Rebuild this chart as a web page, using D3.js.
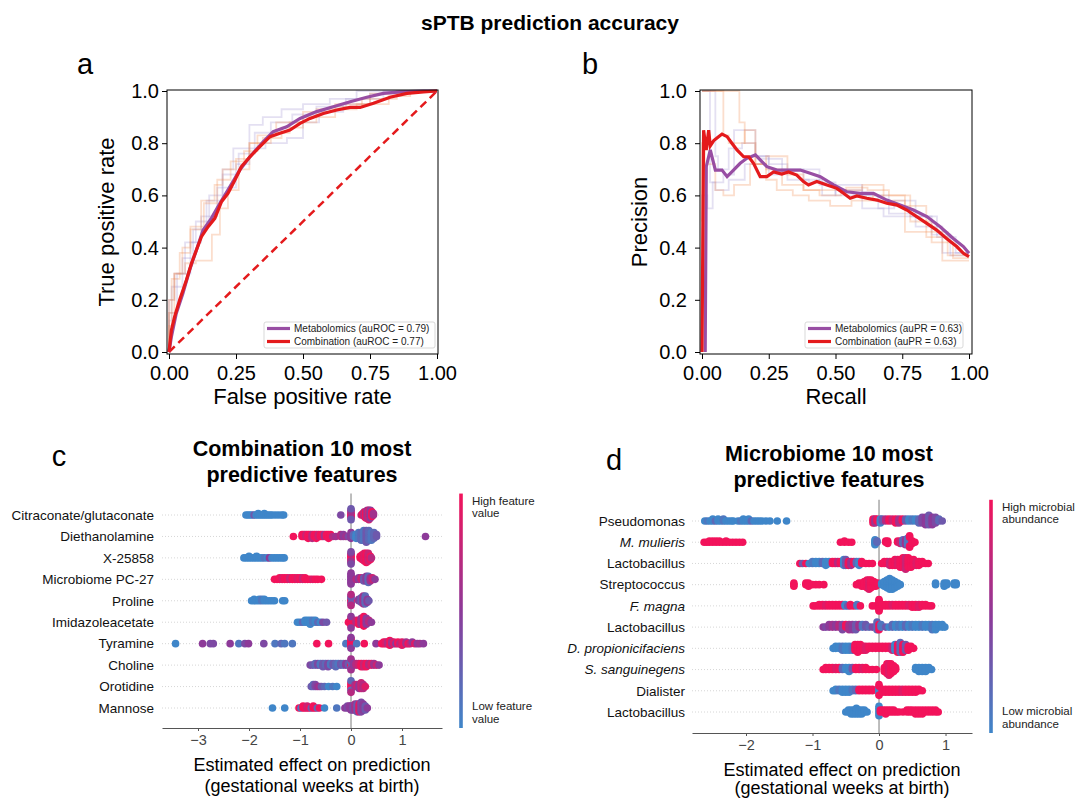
<!DOCTYPE html>
<html>
<head>
<meta charset="utf-8">
<script src="https://d3js.org/d3.v7.min.js"></script>
<style>
  body { margin: 0; background: #fff; }
  svg { font-family: "Liberation Sans", Arial, sans-serif; }
</style>
</head>
<body>
<svg id="fig" width="1075" height="800"></svg>
<script>
// ---------- data: panel a (ROC) ----------
const rocMetab = [[0,0],[0.009,0.059],[0.027,0.148],[0.052,0.225],[0.077,0.314],[0.102,0.39],[0.127,0.467],[0.158,0.512],[0.19,0.57],[0.227,0.633],[0.264,0.697],[0.302,0.748],[0.352,0.806],[0.389,0.844],[0.439,0.863],[0.489,0.895],[0.551,0.921],[0.613,0.94],[0.676,0.959],[0.738,0.976],[0.8,0.991],[0.863,0.997],[0.95,1],[1,1]];
const rocComb = [[0,0],[0.009,0.084],[0.021,0.135],[0.04,0.2],[0.065,0.276],[0.084,0.34],[0.102,0.39],[0.121,0.442],[0.146,0.48],[0.171,0.512],[0.196,0.576],[0.22,0.608],[0.246,0.659],[0.27,0.71],[0.302,0.748],[0.339,0.787],[0.377,0.825],[0.414,0.838],[0.451,0.85],[0.489,0.876],[0.526,0.895],[0.576,0.914],[0.626,0.927],[0.676,0.937],[0.713,0.937],[0.763,0.953],[0.825,0.976],[0.888,0.991],[0.95,0.997],[1,1]];
const rocMetabFolds = [
  [[0,0],[0.02,0.2],[0.06,0.3],[0.1,0.42],[0.15,0.5],[0.2,0.6],[0.24,0.7],[0.3,0.78],[0.35,0.87],[0.42,0.9],[0.5,0.93],[0.6,0.95],[0.7,0.97],[0.85,1],[1,1]],
  [[0,0],[0.03,0.15],[0.08,0.3],[0.12,0.42],[0.18,0.52],[0.25,0.63],[0.3,0.72],[0.36,0.78],[0.44,0.8],[0.5,0.82],[0.56,0.88],[0.65,0.92],[0.75,0.95],[0.88,0.99],[1,1]],
  [[0,0],[0.01,0.12],[0.05,0.25],[0.09,0.36],[0.14,0.47],[0.2,0.58],[0.26,0.68],[0.32,0.76],[0.38,0.84],[0.46,0.88],[0.55,0.91],[0.66,0.94],[0.8,0.97],[0.9,1],[1,1]]
];
const rocCombFolds = [
  [[0,0],[0.02,0.15],[0.06,0.3],[0.1,0.34],[0.16,0.35],[0.19,0.45],[0.22,0.55],[0.26,0.62],[0.3,0.7],[0.38,0.8],[0.45,0.84],[0.55,0.88],[0.7,0.93],[0.82,0.95],[0.9,0.98],[1,1]],
  [[0,0],[0.01,0.1],[0.04,0.28],[0.08,0.38],[0.12,0.47],[0.17,0.58],[0.2,0.64],[0.25,0.7],[0.3,0.74],[0.35,0.8],[0.42,0.82],[0.5,0.86],[0.62,0.9],[0.75,0.95],[0.9,0.99],[1,1]],
  [[0,0],[0.02,0.2],[0.05,0.3],[0.08,0.4],[0.13,0.48],[0.18,0.57],[0.23,0.66],[0.28,0.73],[0.33,0.77],[0.4,0.83],[0.5,0.88],[0.6,0.92],[0.72,0.94],[0.85,0.97],[1,1]]
];
const rocLegend = ["Metabolomics (auROC = 0.79)", "Combination (auROC = 0.77)"];

// ---------- data: panel b (precision-recall) ----------
const prMetab = [[0.012,0],[0.016,0.71],[0.031,0.774],[0.05,0.697],[0.075,0.697],[0.094,0.672],[0.118,0.697],[0.143,0.723],[0.168,0.742],[0.2,0.755],[0.218,0.736],[0.243,0.71],[0.281,0.697],[0.318,0.697],[0.368,0.697],[0.405,0.685],[0.443,0.672],[0.493,0.64],[0.542,0.614],[0.592,0.608],[0.642,0.608],[0.692,0.582],[0.742,0.563],[0.792,0.544],[0.842,0.519],[0.892,0.48],[0.941,0.435],[0.979,0.404],[1,0.378]];
const prComb = [[0,0],[0.006,0.85],[0.016,0.774],[0.025,0.85],[0.031,0.79],[0.044,0.81],[0.062,0.825],[0.075,0.835],[0.094,0.825],[0.112,0.8],[0.131,0.774],[0.156,0.748],[0.175,0.748],[0.193,0.723],[0.218,0.672],[0.243,0.672],[0.268,0.69],[0.299,0.682],[0.324,0.69],[0.355,0.678],[0.38,0.653],[0.399,0.64],[0.43,0.653],[0.468,0.64],[0.505,0.627],[0.53,0.608],[0.555,0.589],[0.58,0.598],[0.617,0.589],[0.655,0.582],[0.692,0.57],[0.73,0.563],[0.767,0.544],[0.804,0.519],[0.842,0.493],[0.879,0.467],[0.916,0.435],[0.954,0.404],[0.979,0.378],[1,0.365]];
const prMetabFolds = [
  [[0,1],[0.05,1],[0.06,0.75],[0.1,0.7],[0.15,0.78],[0.2,0.8],[0.25,0.75],[0.3,0.68],[0.38,0.7],[0.45,0.66],[0.5,0.6],[0.6,0.62],[0.68,0.55],[0.8,0.52],[0.9,0.48],[1,0.38]],
  [[0,0.4],[0.02,0.6],[0.04,0.55],[0.08,0.65],[0.12,0.68],[0.2,0.85],[0.25,0.75],[0.32,0.72],[0.4,0.66],[0.5,0.65],[0.58,0.6],[0.66,0.6],[0.72,0.55],[0.8,0.58],[0.88,0.52],[0.95,0.44],[1,0.38]],
  [[0,1],[0.03,1],[0.05,0.65],[0.1,0.62],[0.16,0.66],[0.22,0.72],[0.3,0.74],[0.36,0.7],[0.44,0.7],[0.52,0.64],[0.6,0.64],[0.7,0.6],[0.78,0.53],[0.86,0.52],[0.93,0.45],[1,0.37]]
];
const prCombFolds = [
  [[0,1],[0.14,1],[0.16,0.88],[0.2,0.8],[0.24,0.72],[0.28,0.66],[0.34,0.62],[0.4,0.6],[0.48,0.58],[0.56,0.56],[0.64,0.58],[0.7,0.6],[0.78,0.6],[0.86,0.5],[0.94,0.42],[1,0.36]],
  [[0,0.5],[0.01,0.8],[0.05,0.72],[0.08,0.62],[0.12,0.6],[0.18,0.64],[0.24,0.72],[0.32,0.75],[0.38,0.68],[0.44,0.62],[0.52,0.6],[0.6,0.62],[0.68,0.64],[0.76,0.58],[0.84,0.46],[0.9,0.44],[1,0.35]],
  [[0,1],[0.08,1],[0.1,0.83],[0.16,0.8],[0.2,0.85],[0.24,0.72],[0.3,0.7],[0.38,0.64],[0.46,0.62],[0.54,0.62],[0.62,0.63],[0.7,0.62],[0.76,0.6],[0.84,0.56],[0.92,0.46],[1,0.37]]
];
const prLegend = ["Metabolomics (auPR = 0.63)", "Combination (auPR = 0.63)"];

const curveXTicks = [0, 0.25, 0.5, 0.75, 1];
const curveYTicks = [0, 0.2, 0.4, 0.6, 0.8, 1];

// ---------- data: panel c (combination SHAP) ----------
// each point group: [shap value, feature value 0..1, count]
const combFeatures = ["Citraconate/glutaconate", "Diethanolamine", "X-25858", "Microbiome PC-27", "Proline",
  "Imidazoleacetate", "Tyramine", "Choline", "Orotidine", "Mannose"];
const combShap = [
  // Citraconate/glutaconate
  [[-2.06,0,1],[-2.02,0,1],[-1.98,0,1],[-1.94,0,1],[-1.9,0.3,1],[-1.86,0,1],[-1.82,0,2],[-1.78,0,1],[-1.74,0,1],[-1.7,0,2],[-1.66,0,1],[-1.62,0,1],[-1.58,0,1],[-1.54,0,1],[-1.48,0,1],[-1.42,0,1],[-1.36,0,1],[-1.32,0,1],
   [-0.2,0.4,1],[0,1,3],[0,0.6,3],[0,0.3,2],
   [0.2,0.8,1],[0.23,1,2],[0.26,0.7,4],[0.29,1,5],[0.32,0.6,6],[0.35,0.8,7],[0.38,0.5,6],[0.41,1,4],[0.44,0.6,2]],
  // Diethanolamine
  [[-1.13,1,1],[-0.96,1,2],[-0.92,1,2],[-0.88,0.8,2],[-0.84,1,3],[-0.8,1,2],[-0.76,0.7,3],[-0.72,1,2],[-0.68,1,3],[-0.64,0.8,2],[-0.6,1,2],[-0.56,1,2],[-0.52,0.6,2],[-0.48,1,2],[-0.44,1,3],[-0.4,1,2],[-0.36,0.7,1],[-0.3,0.6,1],[-0.2,0.7,2],[-0.15,0.5,2],[-0.1,0.6,1],[-0.05,0.4,1],
   [0,0.5,4],[0.05,0.2,2],[0.1,0,3],[0.15,0.1,4],[0.2,0.2,5],[0.25,0.1,6],[0.3,0.3,7],[0.35,0.2,6],[0.4,0.1,5],[0.45,0.2,4],[0.5,0.3,2],[1.46,0.5,1]],
  // X-25858
  [[-2.1,0,1],[-2.05,0,1],[-2,0,2],[-1.95,0,1],[-1.9,0,1],[-1.85,0,2],[-1.8,0,1],[-1.75,0,1],[-1.7,0.1,1],[-1.64,0,1],[-1.6,0.5,1],[-1.55,0,1],[-1.5,0,1],[-1.45,0,1],[-1.4,0,1],[-1.35,0,1],[-1.31,0,1],
   [0,1,4],[0,0.6,3],[0,0.4,2],
   [0.18,1,2],[0.22,1,4],[0.26,0.9,6],[0.3,1,7],[0.34,0.8,6],[0.38,1,3],[0.4,0.7,1]],
  // Microbiome PC-27
  [[-1.5,1,1],[-1.45,1,1],[-1.4,1,2],[-1.35,0.9,2],[-1.3,1,2],[-1.25,1,2],[-1.2,0.8,2],[-1.15,1,2],[-1.1,1,2],[-1.05,0.9,2],[-1,1,2],[-0.95,0.8,2],[-0.9,1,2],[-0.85,1,1],[-0.8,1,1],[-0.75,0.9,1],[-0.7,1,1],[-0.65,1,1],[-0.58,1,1],
   [0,0.5,8],
   [0.1,0.7,1],[0.15,0.5,2],[0.2,0.8,2],[0.25,0.3,3],[0.3,0.5,4],[0.34,0.2,5],[0.38,0.6,3],[0.42,0.8,2],[0.47,0.5,1]],
  // Proline
  [[-1.95,0,1],[-1.9,0,2],[-1.85,0,1],[-1.8,0,2],[-1.75,0.1,2],[-1.7,0,2],[-1.65,0,1],[-1.6,0,1],[-1.55,0,1],[-1.5,0,1],[-1.34,0,1],[-1.3,0,1],
   [0,1,3],[0,0.3,3],[0,0.7,2],
   [0.15,0.5,2],[0.2,0.3,4],[0.24,0.6,6],[0.28,0.2,6],[0.32,0.5,3],[0.35,0.3,1]],
  // Imidazoleacetate
  [[-1.05,0,1],[-1,0,1],[-0.95,0.2,1],[-0.9,0,2],[-0.85,0,2],[-0.8,0,3],[-0.75,0.1,2],[-0.7,0,2],[-0.65,0.2,1],[-0.6,0,1],[-0.55,0.4,1],[-0.48,0.3,1],
   [-0.05,1,1],[0,1,5],[0,0.5,2],
   [0.1,0.7,2],[0.15,1,3],[0.2,0.6,4],[0.25,1,6],[0.3,0.5,4],[0.35,0.7,2],[0.4,0.5,1]],
  // Tyramine
  [[-3.44,0,1],[-2.91,0.5,1],[-2.76,0.4,1],[-2.7,0.4,1],[-2.37,0.5,1],[-2.2,0.1,1],[-2.08,0.4,1],[-2.01,0.5,1],[-1.71,0.4,1],[-1.49,0.1,1],[-1.37,0.2,1],[-1.3,0.1,1],[-1.15,0.1,1],[-0.67,1,1],[-0.44,1,1],[-0.1,0.1,1],
   [0,1,6],[0,0.5,2],[0.11,0.1,1],[0.26,1,1],[0.49,0.5,1],
   [0.6,1,1],[0.64,1,2],[0.68,0.9,2],[0.72,0.7,2],[0.76,1,2],[0.8,0.6,2],[0.84,0.9,2],[0.88,0.5,1],[0.92,1,2],[0.96,0.7,1],[1,0.9,2],[1.04,1,1],[1.08,0.6,2],[1.12,1,1],[1.16,0.8,1],[1.2,0.5,1],[1.25,0.9,1],[1.3,0.5,1],[1.35,0.6,1],[1.42,0.5,1]],
  // Choline
  [[-0.8,0.4,1],[-0.75,0.3,1],[-0.7,0.2,2],[-0.65,0.4,2],[-0.6,0.1,2],[-0.55,0.3,3],[-0.5,0.2,2],[-0.45,0.4,3],[-0.4,0.1,2],[-0.35,0.3,2],[-0.3,0.2,3],[-0.25,0.1,2],[-0.2,0.3,2],[-0.15,0.2,2],[-0.1,0.5,2],[-0.05,0.3,2],
   [0,1,3],[0,0.2,3],[0,0.6,2],
   [0.05,0.5,2],[0.1,0.7,2],[0.15,0.8,2],[0.2,1,3],[0.25,0.8,3],[0.3,1,3],[0.35,0.7,2],[0.4,0.9,2],[0.45,0.6,2],[0.5,0.8,1],[0.55,0.5,1]],
  // Orotidine
  [[-0.78,0.3,1],[-0.74,0.2,2],[-0.7,0.4,2],[-0.66,0.5,1],[-0.62,0.6,1],[-0.58,0.3,1],[-0.52,0.2,1],[-0.44,0,1],[-0.36,0.1,1],[-0.28,0,1],
   [0,1,4],[0,0.2,2],[0,0.7,1],
   [0.08,0.6,2],[0.12,0.8,2],[0.16,0.5,3],[0.2,0.8,4],[0.24,0.7,3],[0.28,0.9,1]],
  // Mannose
  [[-1.54,0,1],[-1.3,0,1],[-1.02,1,1],[-0.98,0.1,1],[-0.94,1,2],[-0.9,1,1],[-0.86,0.8,2],[-0.82,1,1],[-0.78,0.3,1],[-0.74,1,2],[-0.7,1,1],[-0.66,0.2,1],[-0.62,1,1],[-0.52,0,1],[-0.28,0.1,1],
   [-0.12,0.5,1],[-0.07,0.4,2],[-0.03,0.5,2],[0,0.5,3],[0.04,0.4,3],[0.08,0.6,4],[0.12,0.3,5],[0.16,0.9,5],[0.2,0.4,6],[0.24,0.5,4],[0.28,0.3,3],[0.32,0.5,1]]
];
const combTicks = [-3, -2, -1, 0, 1];

// ---------- data: panel d (microbiome SHAP) ----------
const microFeatures = ["Pseudomonas", "M. mulieris", "Lactobacillus", "Streptococcus", "F. magna",
  "Lactobacillus", "D. propionicifaciens", "S. sanguinegens", "Dialister", "Lactobacillus"];
const microItalic = [false, true, false, false, true, false, true, true, false, false];
const microShap = [
  // Pseudomonas
  [[-2.62,0,1],[-2.58,0.1,1],[-2.54,0,1],[-2.5,0,2],[-2.46,0.2,1],[-2.42,0,2],[-2.38,0,1],[-2.34,0.1,2],[-2.3,0,1],[-2.26,0,1],[-2.22,0,1],[-2.19,0,1],[-2.12,0,1],[-2.08,0.1,1],[-2.04,0,2],[-2,0,1],[-1.96,0,2],[-1.92,0.2,1],[-1.88,0,1],[-1.84,0,1],[-1.8,0,1],[-1.76,0,1],[-1.7,0,1],[-1.64,0,1],[-1.53,0,1],[-1.39,0,1],
   [-0.09,1,3],[-0.06,0.6,3],[-0.03,1,2],[0.02,0,3],[0.05,0.3,2],[0.1,0.7,2],[0.15,1,2],[0.2,0.8,2],[0.25,1,3],[0.3,0.6,3],[0.35,1,2],[0.4,0.3,2],[0.45,0,2],[0.5,0.1,2],[0.55,0,2],[0.6,0.2,3],[0.65,0.4,4],[0.7,0.5,5],[0.75,0.3,6],[0.8,0.5,5],[0.85,0.4,4],[0.9,0.2,2],[0.95,0.3,1]],
  // M. mulieris
  [[-2.63,1,1],[-2.59,1,1],[-2.55,1,2],[-2.5,1,2],[-2.45,1,2],[-2.4,1,2],[-2.35,1,1],[-2.3,1,2],[-2.25,1,1],[-2.2,1,1],[-2.15,1,1],[-2.1,1,1],[-2.05,1,1],
   [-0.58,1,1],[-0.52,1,2],[-0.46,1,1],[-0.41,1,1],
   [-0.06,0,5],[-0.03,0.2,2],[0.1,1,2],[0.13,1,3],[0.28,1,2],[0.32,0.8,3],[0.36,0.2,4],[0.4,0.6,5],[0.43,0.1,6],[0.46,1,4],[0.5,1,3],[0.54,1,1]],
  // Lactobacillus
  [[-1.19,1,1],[-1.15,0.3,1],[-1.1,1,1],[-1.05,0,1],[-1,0.1,2],[-0.95,0,2],[-0.9,0,2],[-0.85,0.2,2],[-0.8,0,3],[-0.75,0,2],[-0.7,1,2],[-0.66,1,2],[-0.62,0.7,2],[-0.58,1,2],[-0.53,0,4],[-0.5,0.3,4],[-0.46,1,3],[-0.42,0.6,3],[-0.38,1,2],[-0.34,0.2,2],[-0.3,0,3],[-0.26,1,2],[-0.2,1,1],[-0.15,1,1],[-0.1,1,1],
   [0.04,1,1],[0.08,1,2],[0.12,1,2],[0.16,0.8,3],[0.2,1,3],[0.24,1,4],[0.28,0.9,4],[0.32,1,5],[0.36,1,6],[0.4,0.8,7],[0.44,1,6],[0.48,1,5],[0.52,1,4],[0.56,0.9,3],[0.6,1,3],[0.65,1,2],[0.7,1,1],[0.74,1,1]],
  // Streptococcus
  [[-1.28,1,3],[-1.1,1,2],[-1.06,1,3],[-1.0,1,1],[-0.95,1,1],[-0.9,1,1],[-0.83,1,1],
   [-0.34,1,1],[-0.3,1,2],[-0.26,1,3],[-0.22,1,4],[-0.18,1,6],[-0.15,0.9,7],[-0.12,1,6],[-0.08,1,4],[-0.05,1,3],[-0.02,1,2],
   [0.04,0,2],[0.08,0,4],[0.12,0,6],[0.16,0,8],[0.2,0,7],[0.24,0,5],[0.28,0,3],[0.32,0,1],
   [0.85,0,2],[0.98,0,3],[1.02,0,2],[1.13,0,2],[1.16,0,2]],
  // F. magna
  [[-0.99,1,1],[-0.95,1,1],[-0.9,1,2],[-0.85,1,2],[-0.8,0.9,2],[-0.75,1,2],[-0.7,1,2],[-0.65,1,2],[-0.6,1,2],[-0.55,1,2],[-0.51,0,2],[-0.47,0.3,1],[-0.43,1,2],[-0.38,1,1],[-0.33,0.1,2],[-0.28,1,1],
   [-0.1,1,1],[-0.05,1,1],[0,1,10],
   [0.05,1,2],[0.1,1,2],[0.15,1,2],[0.2,0.9,2],[0.25,1,2],[0.3,1,2],[0.35,1,2],[0.4,1,2],[0.45,0.9,2],[0.5,1,3],[0.55,1,3],[0.6,0.9,3],[0.65,1,2],[0.7,1,2],[0.75,1,1],[0.79,1,1]],
  // Lactobacillus
  [[-0.84,0.5,1],[-0.8,0.4,1],[-0.75,0.5,2],[-0.7,0.6,2],[-0.65,0.5,2],[-0.6,0.7,2],[-0.55,0.4,3],[-0.5,1,2],[-0.45,0.6,3],[-0.4,0.5,3],[-0.35,0.3,3],[-0.3,0.6,2],[-0.25,0.1,2],[-0.2,0.3,2],[-0.15,0.2,1],[-0.1,0.4,1],
   [-0.03,0.2,4],[0,1,3],[0.03,0.1,2],
   [0.1,0.3,1],[0.15,0,1],[0.2,0.2,2],[0.25,0,2],[0.3,0.1,2],[0.35,0,2],[0.4,0.2,2],[0.45,0,2],[0.5,0.1,2],[0.55,0,2],[0.6,0,2],[0.65,0.1,2],[0.7,0,2],[0.75,0,2],[0.8,0.1,3],[0.85,0,3],[0.9,0,2],[0.95,0,2],[0.99,0,1]],
  // D. propionicifaciens
  [[-0.69,0,1],[-0.65,0,2],[-0.6,0,2],[-0.55,0.1,3],[-0.5,0,3],[-0.45,0,3],[-0.4,0.1,3],[-0.36,1,4],[-0.32,1,5],[-0.28,1,4],[-0.24,1,3],[-0.2,0.9,3],[-0.15,1,2],[-0.1,1,2],[-0.05,1,2],
   [0,1,2],[0.05,1,2],[0.1,1,2],[0.15,1,2],[0.2,0.8,3],[0.24,0,4],[0.28,1,5],[0.32,0.2,6],[0.36,1,5],[0.4,0.3,4],[0.44,1,3],[0.48,1,2],[0.52,1,1]],
  // S. sanguinegens
  [[-0.84,1,1],[-0.8,1,2],[-0.75,1,2],[-0.7,1,2],[-0.65,0.9,2],[-0.6,1,2],[-0.55,0.2,2],[-0.5,0,2],[-0.45,0,3],[-0.4,0.3,2],[-0.35,1,2],[-0.3,1,2],[-0.25,0.9,2],[-0.2,1,2],[-0.15,1,1],[-0.1,1,1],[-0.04,1,1],
   [0.08,1,3],[0.12,1,6],[0.15,0.9,7],[0.18,1,6],[0.22,1,4],[0.25,1,2],
   [0.55,0,2],[0.6,0,3],[0.65,0,3],[0.7,0,3],[0.75,0,2],[0.79,0,1]],
  // Dialister
  [[-0.69,0,1],[-0.65,0,2],[-0.6,0.1,2],[-0.55,0,3],[-0.5,0,3],[-0.45,0,3],[-0.4,0.1,2],[-0.35,0.2,2],[-0.3,1,2],[-0.25,1,2],[-0.2,1,2],[-0.15,1,2],[-0.1,1,2],
   [0,0,5],[0,1,3],
   [0.05,1,3],[0.1,1,3],[0.15,1,3],[0.2,1,3],[0.25,1,3],[0.3,1,3],[0.35,0.9,3],[0.4,1,3],[0.45,1,3],[0.5,1,3],[0.55,1,3],[0.6,1,2],[0.65,1,1]],
  // Lactobacillus
  [[-0.5,0,1],[-0.46,0,2],[-0.42,0,3],[-0.38,0,3],[-0.34,0,4],[-0.3,0,3],[-0.26,0,3],[-0.22,0,2],[-0.18,0,1],
   [0,0,6],
   [0.02,1,2],[0.06,1,2],[0.1,1,3],[0.14,1,2],[0.18,1,2],[0.22,1,2],[0.26,1,1],[0.3,1,1],[0.36,1,1],[0.42,1,2],[0.46,1,2],[0.5,1,2],[0.55,1,3],[0.6,1,3],[0.65,1,3],[0.7,1,2],[0.75,1,2],[0.8,1,2],[0.85,1,2],[0.89,1,1]]
];
const microTicks = [-2, -1, 0, 1];

// ---------- drawing ----------
const svg = d3.select('#fig');
const purple = '#984ea3', red = '#e41a1c';
const shapColor = d3.scaleLinear().domain([0, 0.5, 1]).range(['#3f86c9', '#8d3a99', '#f2135b']);

svg.append('text').attr('x', 550).attr('y', 30).attr('text-anchor', 'middle')
  .attr('font-size', 21).attr('font-weight', 'bold').text('sPTB prediction accuracy');

[['a', 85, 74], ['b', 590, 74], ['c', 59, 466], ['d', 614, 470]].forEach(([t, x, y]) => {
  svg.append('text').attr('x', x).attr('y', y).attr('text-anchor', 'middle').attr('font-size', 29).text(t);
});

function curvePanel(o) {
  const g = svg.append('g');
  const x = d3.scaleLinear().domain([0, 1]).range(o.xr);
  const y = d3.scaleLinear().domain([0, 1]).range([352, 91]);
  const line = d3.line().x(d => x(d[0])).y(d => y(d[1]));
  const stepLine = d3.line().x(d => x(d[0])).y(d => y(d[1])).curve(d3.curveStepBefore);

  o.folds1.forEach(f => g.append('path').attr('d', stepLine(f)).attr('fill', 'none')
    .attr('stroke', '#9e8fd0').attr('stroke-opacity', 0.28).attr('stroke-width', 1.8));
  o.folds2.forEach(f => g.append('path').attr('d', stepLine(f)).attr('fill', 'none')
    .attr('stroke', '#f08a4b').attr('stroke-opacity', 0.28).attr('stroke-width', 1.8));
  if (o.diag) {
    g.append('path').attr('d', line([[0, 0], [1, 1]])).attr('fill', 'none')
      .attr('stroke', red).attr('stroke-width', 2.5).attr('stroke-dasharray', '8,5');
  }
  g.append('path').attr('d', line(o.main1)).attr('fill', 'none').attr('stroke', purple).attr('stroke-width', 3.2);
  g.append('path').attr('d', line(o.main2)).attr('fill', 'none').attr('stroke', red).attr('stroke-width', 3.2);

  const xa = g.append('g').attr('transform', 'translate(0,354)')
    .call(d3.axisBottom(x).tickValues(curveXTicks).tickFormat(d3.format('.2f')).tickSize(5).tickPadding(7));
  const ya = g.append('g').attr('transform', `translate(${o.fx0},0)`)
    .call(d3.axisLeft(y).tickValues(curveYTicks).tickFormat(d3.format('.1f')).tickSize(5).tickPadding(o.ypad));
  [xa, ya].forEach(a => {
    a.select('.domain').remove();
    a.selectAll('line').attr('stroke', '#000');
    a.selectAll('text').attr('font-size', 20).attr('fill', '#000')
      .attr('font-family', '"Liberation Sans", Arial, sans-serif');
  });
  g.append('rect').attr('x', o.fx0).attr('y', 90).attr('width', o.fx1 - o.fx0).attr('height', 264)
    .attr('fill', 'none').attr('stroke', '#000').attr('stroke-width', 1);

  g.append('text').attr('x', (o.fx0 + o.fx1) / 2).attr('y', 404).attr('text-anchor', 'middle')
    .attr('font-size', 22).text(o.xlabel);
  g.append('text').attr('transform', `translate(${o.ylabelX},222) rotate(-90)`).attr('text-anchor', 'middle')
    .attr('font-size', 22).text(o.ylabel);

  // legend
  const lg = g.append('g');
  lg.append('rect').attr('x', o.leg[0]).attr('y', 322).attr('width', o.leg[1] - o.leg[0]).attr('height', 26)
    .attr('rx', 2).attr('fill', '#fff').attr('fill-opacity', 0.85).attr('stroke', '#cfcfcf').attr('stroke-width', 0.8);
  [[purple, o.legend[0], 328.5], [red, o.legend[1], 341.5]].forEach(([c, t, yy]) => {
    lg.append('line').attr('x1', o.leg[0] + 3).attr('x2', o.leg[0] + 26).attr('y1', yy).attr('y2', yy)
      .attr('stroke', c).attr('stroke-width', 3.2);
    lg.append('text').attr('x', o.leg[0] + 30).attr('y', yy + 3.5).attr('font-size', 10).attr('fill', '#222').text(t);
  });
}

curvePanel({ xr: [169, 437], fx0: 167, fx1: 438, ypad: 3, diag: true,
  main1: rocMetab, main2: rocComb, folds1: rocMetabFolds, folds2: rocCombFolds,
  xlabel: 'False positive rate', ylabel: 'True positive rate', ylabelX: 114,
  leg: [264, 435], legend: rocLegend });
curvePanel({ xr: [702, 969], fx0: 700, fx1: 972, ypad: 8, diag: false,
  main1: prMetab, main2: prComb, folds1: prMetabFolds, folds2: prCombFolds,
  xlabel: 'Recall', ylabel: 'Precision', ylabelX: 647,
  leg: [805, 963], legend: prLegend });

// SHAP-style beeswarm offsets: points stacked per x bin, scaled to fit the row
function swarm(pts, step) {
  const lo = d3.min(pts, p => p.v), hi = d3.max(pts, p => p.v);
  const q = pts.map(p => Math.round(100 * (p.v - lo) / (hi - lo + 1e-8)));
  const order = d3.range(pts.length).sort((a, b) => q[a] - q[b] || a - b);
  const ys = new Array(pts.length).fill(0);
  let layer = 0, last = -1;
  order.forEach(i => {
    if (q[i] !== last) layer = 0;
    ys[i] = Math.ceil(layer / 2) * ((layer % 2) * 2 - 1);
    layer++;
    last = q[i];
  });
  const k = 0.9 * 0.4 / d3.max(ys, v => v + 1);
  return ys.map(v => v * k * step);
}

const defs = svg.append('defs');
const grad = defs.append('linearGradient').attr('id', 'cbar').attr('x1', 0).attr('y1', 1).attr('x2', 0).attr('y2', 0);
d3.range(0, 1.001, 0.1).forEach(t => grad.append('stop').attr('offset', t).attr('stop-color', shapColor(t)));

function beeswarm(o) {
  const g = svg.append('g');
  const x = d3.scaleLinear().domain(o.domain).range([o.ax0, o.ax1]);
  const y = d3.scalePoint().domain(d3.range(o.features.length)).range([o.row0, o.rowN]);
  const step = y.step();
  const top = o.row0 - step;

  g.selectAll('line.grid').data(o.features).join('line').attr('class', 'grid')
    .attr('x1', o.ax0).attr('x2', o.ax1).attr('y1', (d, i) => y(i)).attr('y2', (d, i) => y(i))
    .attr('stroke', '#cccccc').attr('stroke-width', 0.8).attr('stroke-dasharray', '1,2');
  g.append('line').attr('x1', x(0)).attr('x2', x(0)).attr('y1', top).attr('y2', o.axisY)
    .attr('stroke', '#999').attr('stroke-width', 1.3);

  o.rows.forEach((row, i) => {
    const pts = [];
    row.forEach(([v, c, n]) => { for (let k = 0; k < n; k++) pts.push({ v, c }); });
    const off = swarm(pts, step);
    g.append('g').selectAll('circle').data(pts).join('circle')
      .attr('cx', d => x(d.v)).attr('cy', (d, j) => y(i) - off[j]).attr('r', 3.8)
      .attr('fill', d => shapColor(d.c));
  });

  g.selectAll('text.feat').data(o.features).join('text').attr('class', 'feat')
    .attr('x', o.labelX).attr('y', (d, i) => y(i)).attr('dy', '0.35em').attr('text-anchor', 'end')
    .attr('font-size', 13.5).attr('fill', '#111')
    .attr('font-style', (d, i) => o.italic && o.italic[i] ? 'italic' : 'normal').text(d => d);

  const ax = g.append('g').attr('transform', `translate(0,${o.axisY})`)
    .call(d3.axisBottom(x).tickValues(o.ticks).tickFormat(d3.format('d')).tickSize(3).tickPadding(4).tickSizeOuter(0));
  ax.select('.domain').attr('stroke', '#555');
  ax.selectAll('line').attr('stroke', '#555');
  ax.selectAll('text').attr('font-size', 14.5).attr('fill', '#444')
    .attr('font-family', '"Liberation Sans", Arial, sans-serif');

  g.append('text').attr('x', o.xlabelX).attr('y', o.axisY + 43).attr('text-anchor', 'middle')
    .attr('font-size', 18).text('Estimated effect on prediction');
  g.append('text').attr('x', o.xlabelX).attr('y', Math.min(o.axisY + 64, 794)).attr('text-anchor', 'middle')
    .attr('font-size', 18).text('(gestational weeks at birth)');

  g.append('text').attr('x', o.titleX).attr('y', o.titleY).attr('text-anchor', 'middle')
    .attr('font-size', 21.5).attr('font-weight', 'bold').text(o.title[0]);
  g.append('text').attr('x', o.titleX).attr('y', o.titleY + 26).attr('text-anchor', 'middle')
    .attr('font-size', 21.5).attr('font-weight', 'bold').text(o.title[1]);

  g.append('rect').attr('x', o.cbX - 1.8).attr('y', top).attr('width', 3.6).attr('height', o.axisY - top)
    .attr('fill', 'url(#cbar)');
  const lx = o.cbX + 11;
  [[o.cbText[0], top + 11], [o.cbText[1], top + 23], [o.cbText[2], o.axisY - 18], [o.cbText[3], o.axisY - 5]]
    .forEach(([t, yy]) => g.append('text').attr('x', lx).attr('y', yy).attr('font-size', 11.5).attr('fill', '#222').text(t));
}

beeswarm({ features: combFeatures, rows: combShap, ticks: combTicks,
  domain: [-3.706, 1.784], ax0: 162, ax1: 442, row0: 515, rowN: 708, axisY: 728,
  labelX: 154, xlabelX: 312, titleX: 302, titleY: 456,
  title: ['Combination 10 most', 'predictive features'],
  cbX: 461, cbText: ['High feature', 'value', 'Low feature', 'value'] });

beeswarm({ features: microFeatures, italic: microItalic, rows: microShap, ticks: microTicks,
  domain: [-2.812, 1.398], ax0: 692, ax1: 972, row0: 521, rowN: 712, axisY: 733,
  labelX: 685, xlabelX: 842, titleX: 829, titleY: 461,
  title: ['Microbiome 10 most', 'predictive features'],
  cbX: 991, cbText: ['High microbial', 'abundance', 'Low microbial', 'abundance'] });
</script>
</body>
</html>
